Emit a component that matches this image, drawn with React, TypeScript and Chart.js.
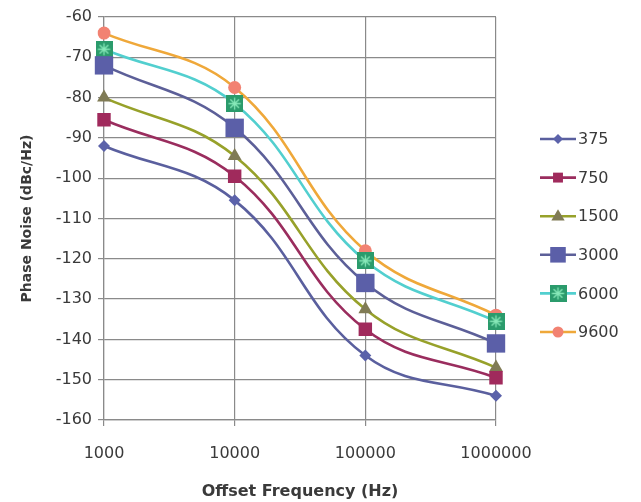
import React, { useEffect, useRef } from "react";
import { Chart, registerables } from "chart.js";

Chart.register(...registerables);

const categories = ["1000", "10000", "100000", "1000000"];
const seriesNames = ["375", "750", "1500", "3000", "6000", "9600"];
const s375 = [-92, -105.5, -144, -154];
const s750 = [-85.5, -99.5, -137.5, -149.5];
const s1500 = [-80, -94.5, -132.5, -147];
const s3000 = [-72, -87.5, -126, -141];
const s6000 = [-68, -81.5, -120.5, -135.5];
const s9600 = [-64, -77.5, -118, -134];
const yTicks = { min: -160, max: -60, step: 10 };

const lineColors = ["#5a5f9e", "#9a2d5e", "#97a12a", "#5c5f98", "#52cfcf", "#efa83a"];
const markerColors = ["#5b62aa", "#a02a5c", "#807b55", "#5b5fa8", "#2b9b6c", "#f28272"];
const markerStyles = ["rectRot", "rect", "triangle", "rect", "img", "circle"];
const markerRadius = [6, 9.5, 8, 13, 12, 6.5];

const FONT = "'DejaVu Sans'";

function makeStarSquare(size: number, fill: string, star: string) {
  const c = document.createElement("canvas");
  c.width = size;
  c.height = size;
  const ctx = c.getContext("2d")!;
  ctx.fillStyle = fill;
  ctx.fillRect(0, 0, size, size);
  ctx.strokeStyle = star;
  ctx.lineWidth = 1.3;
  const m = size / 2;
  const r = size * 0.36;
  ctx.beginPath();
  for (let i = 0; i < 4; i++) {
    const a = (i * Math.PI) / 4;
    ctx.moveTo(m - r * Math.cos(a), m - r * Math.sin(a));
    ctx.lineTo(m + r * Math.cos(a), m + r * Math.sin(a));
  }
  ctx.stroke();
  return c;
}

function drawMarker(ctx: CanvasRenderingContext2D, style: string, x: number, y: number, r: number, color: string, img: HTMLCanvasElement | null) {
  ctx.save();
  ctx.fillStyle = color;
  ctx.beginPath();
  if (style === "rectRot") {
    ctx.moveTo(x, y - r);
    ctx.lineTo(x + r, y);
    ctx.lineTo(x, y + r);
    ctx.lineTo(x - r, y);
    ctx.closePath();
    ctx.fill();
  } else if (style === "rect") {
    const s = r * Math.SQRT1_2;
    ctx.rect(x - s, y - s, 2 * s, 2 * s);
    ctx.fill();
  } else if (style === "triangle") {
    ctx.moveTo(x, y - r);
    ctx.lineTo(x + r * 0.95, y + r * 0.6);
    ctx.lineTo(x - r * 0.95, y + r * 0.6);
    ctx.closePath();
    ctx.fill();
  } else if (style === "circle") {
    ctx.arc(x, y, r, 0, Math.PI * 2);
    ctx.fill();
  } else if (style === "img" && img) {
    ctx.drawImage(img, x - img.width / 2, y - img.height / 2);
  }
  ctx.restore();
}

export default function App() {
  const ref = useRef<HTMLCanvasElement | null>(null);

  useEffect(() => {
    if (!ref.current) return;
    const starImg = makeStarSquare(17, "#2b9b6c", "#86e8b8");
    const allData = [s375, s750, s1500, s3000, s6000, s9600];

    const datasets = allData.map((d, i) => ({
      label: seriesNames[i],
      data: d,
      borderColor: lineColors[i],
      backgroundColor: markerColors[i],
      pointBackgroundColor: markerColors[i],
      pointBorderColor: markerColors[i],
      pointBorderWidth: 0,
      pointStyle: markerStyles[i] === "img" ? (starImg as any) : markerStyles[i],
      pointRadius: markerRadius[i],
      borderWidth: 2.6,
      tension: 0.4,
      fill: false,
    }));

    const legendPlugin = {
      id: "customLegend",
      afterDraw(chart: any) {
        const ctx = chart.ctx as CanvasRenderingContext2D;
        const startY = 131;
        const gap = 38.6;
        ctx.save();
        seriesNames.forEach((name, i) => {
          const y = startY + i * gap;
          ctx.strokeStyle = lineColors[i];
          ctx.lineWidth = 2.6;
          ctx.beginPath();
          ctx.moveTo(532, y);
          ctx.lineTo(568, y);
          ctx.stroke();
          const lr = [5, 7, 7, 11, 11, 5.5][i];
          drawMarker(ctx, markerStyles[i], 550, y, lr, markerColors[i], starImg);
          ctx.fillStyle = "#3a3a3a";
          ctx.font = `16px ${FONT}`;
          ctx.textAlign = "left";
          ctx.textBaseline = "middle";
          ctx.fillText(name, 570, y + 1);
        });
        ctx.restore();
      },
    };

    const chart = new Chart(ref.current, {
      type: "line",
      data: { labels: categories, datasets },
      options: {
        animation: false,
        responsive: false,
        maintainAspectRatio: false,
        layout: { autoPadding: false, padding: { top: 9, right: 137, left: 0, bottom: 0 } },
        plugins: { legend: { display: false }, tooltip: { enabled: false } },
        scales: {
          x: {
            type: "category",
            offset: false,
            grid: { color: "#8a8a8a", lineWidth: 1.2, tickLength: 6, drawTicks: true },
            border: { color: "#8a8a8a", width: 1.2 },
            ticks: { color: "#3a3a3a", font: { family: FONT, size: 16 }, padding: 18, maxRotation: 0 },
            title: {
              display: true,
              text: "Offset Frequency (Hz)",
              color: "#3a3a3a",
              font: { family: FONT, size: 16, weight: "bold" },
              padding: { top: 0, bottom: 1 },
            },
            afterFit(scale: any) {
              scale.height = 82;
              scale.paddingLeft = 0;
              scale.paddingRight = 0;
            },
          },
          y: {
            min: yTicks.min,
            max: yTicks.max,
            ticks: { stepSize: yTicks.step, color: "#3a3a3a", font: { family: FONT, size: 16 }, padding: 6 },
            grid: { color: "#8a8a8a", lineWidth: 1.2, tickLength: 6 },
            border: { color: "#8a8a8a", width: 1.2 },
            title: {
              display: true,
              text: "Phase Noise (dBc/Hz)",
              color: "#3a3a3a",
              font: { family: FONT, size: 14, weight: "bold" },
              padding: { top: 11, bottom: 0 },
            },
            afterFit(scale: any) {
              scale.width = 96;
              scale.paddingTop = 0;
              scale.paddingBottom = 0;
            },
          },
        },
      },
      plugins: [legendPlugin],
    } as any);

    return () => chart.destroy();
  }, []);

  return (
    <div style={{ width: 625, height: 494 }}>
      <canvas ref={ref} width={625} height={494} style={{ width: 625, height: 494, display: "block" }} />
    </div>
  );
}
